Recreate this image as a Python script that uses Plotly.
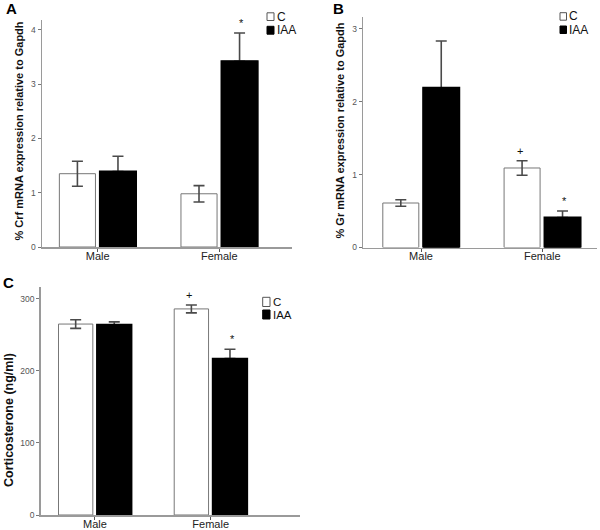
import plotly.graph_objects as go

W, H = 600, 530

categories = ["Male", "Female"]
groups = ["C", "IAA"]

# Panel A: % Crf mRNA expression relative to Gapdh
crf_c = [1.35, 0.98]
crf_c_sem = [0.23, 0.15]
crf_iaa = [1.39, 3.42]
crf_iaa_sem = [0.28, 0.52]

# Panel B: % Gr mRNA expression relative to Gapdh
gr_c = [0.61, 1.09]
gr_c_sem = [0.045, 0.10]
gr_iaa = [2.19, 0.41]
gr_iaa_sem = [0.64, 0.09]

# Panel C: Corticosterone (ng/ml)
cort_c = [265, 286]
cort_c_sem = [6, 5.5]
cort_iaa = [264, 217]
cort_iaa_sem = [4, 13]

ticks_a = [0, 1, 2, 3, 4]
ticks_b = [0, 1, 2, 3]
ticks_c = [0, 100, 200, 300]

# significance marks: (panel, category index, group, symbol)
marks = [
    ("A", 1, "IAA", "*"),
    ("B", 1, "C", "+"),
    ("B", 1, "IAA", "*"),
    ("C", 1, "C", "+"),
    ("C", 1, "IAA", "*"),
]

FONT = "Arial, Liberation Sans, sans-serif"
AXC = "#9a9a9a"
ERRC = "#4a4a4a"


def px(x):
    return x / W


def py(y):
    return 1 - y / H


fig = go.Figure()

panels = {
    "A": dict(xa="x", ya="y", c=crf_c, cs=crf_c_sem, i=crf_iaa, isem=crf_iaa_sem),
    "B": dict(xa="x2", ya="y2", c=gr_c, cs=gr_c_sem, i=gr_iaa, isem=gr_iaa_sem),
    "C": dict(xa="x3", ya="y3", c=cort_c, cs=cort_c_sem, i=cort_iaa, isem=cort_iaa_sem),
}

for key, p in panels.items():
    fig.add_trace(go.Bar(
        x=categories, y=p["c"], name=groups[0], xaxis=p["xa"], yaxis=p["ya"],
        offsetgroup="C",
        marker=dict(color="white", line=dict(color="#777777", width=1)),
        error_y=dict(type="data", array=p["cs"], visible=True, color=ERRC,
                     thickness=1.6, width=5.5),
        showlegend=False,
    ))
    fig.add_trace(go.Bar(
        x=categories, y=p["i"], name=groups[1], xaxis=p["xa"], yaxis=p["ya"],
        offsetgroup="IAA",
        marker=dict(color="black", line=dict(color="black", width=1)),
        error_y=dict(type="data", array=p["isem"], arrayminus=[0] * len(p["isem"]),
                     symmetric=False, visible=True, color=ERRC,
                     thickness=1.6, width=5.5),
        showlegend=False,
    ))
    # same IAA bars drawn again (no error bars) so the error bar's lower cap is hidden
    fig.add_trace(go.Bar(
        x=categories, y=p["i"], name=groups[1], xaxis=p["xa"], yaxis=p["ya"],
        offsetgroup="IAA",
        marker=dict(color="black", line=dict(color="black", width=2)),
        showlegend=False, hoverinfo="skip",
    ))

common_x = dict(type="category", showline=True, linecolor=AXC, linewidth=1.5,
                ticks="outside", ticklen=3, tickcolor="#555555", tickwidth=1,
                ticklabelstandoff=-5,
                tickfont=dict(family=FONT, size=11, color="#222222"),
                showgrid=False, zeroline=False, fixedrange=True, automargin=False)
common_y = dict(showline=True, linecolor=AXC, linewidth=1.5,
                ticks="outside", ticklen=3, tickcolor="#777777", tickwidth=1,
                tickfont=dict(family=FONT, size=8.5, color="#555555"),
                showgrid=False, zeroline=False, fixedrange=True, automargin=False)

fig.update_layout(
    width=W, height=H,
    margin=dict(l=0, r=0, t=0, b=0, pad=0),
    paper_bgcolor="white", plot_bgcolor="white",
    barmode="group", bargap=0.333, bargroupgap=0.11,
    showlegend=False,
    xaxis=dict(common_x, domain=[px(42), px(292)], range=[-0.458, 1.598], anchor="y"),
    yaxis=dict(common_y, domain=[py(247), py(20)], range=[0, 4.18], anchor="x",
               tickvals=ticks_a),
    xaxis2=dict(common_x, domain=[px(363.3), px(597)], range=[-0.476, 1.451], anchor="y2"),
    yaxis2=dict(common_y, domain=[py(247.5), py(17)], range=[0, 3.16], anchor="x2",
                tickvals=ticks_b),
    xaxis3=dict(common_x, domain=[px(40.7), px(300)], range=[-0.469, 1.772], anchor="y3"),
    yaxis3=dict(common_y, domain=[py(515), py(287.3)], range=[0, 316], anchor="x3",
                tickvals=ticks_c),
)

annotations = []
shapes = []

# y-axis titles
titles = [
    ("% Crf mRNA expression relative to Gapdh", 18, 131.5, 11),
    ("% Gr mRNA expression relative to Gapdh", 339, 130.5, 11),
    ("Corticosterone (ng/ml)", 9, 420, 12.5),
]
for t, xx, yy, fs in titles:
    annotations.append(dict(text="<b>%s</b>" % t, x=px(xx), y=py(yy), xref="paper", yref="paper",
                            xanchor="center", yanchor="middle", textangle=-90, showarrow=False,
                            font=dict(family=FONT, size=fs, color="#111111")))

# panel letters
for t, xx, yy in [("A", 11, 8.5), ("B", 338, 8.5), ("C", 8, 282)]:
    annotations.append(dict(text="<b>%s</b>" % t, x=px(xx), y=py(yy), xref="paper", yref="paper",
                            xanchor="center", yanchor="middle", showarrow=False,
                            font=dict(family=FONT, size=15, color="black")))

# legends (boxes + labels)
legends = [
    (267, 274, [(12.8, 20.5), (26.3, 34.2)], 12),
    (560, 566.5, [(12.7, 20.2), (26.0, 33.5)], 12),
    (262.7, 270, [(297.3, 306.5), (310, 319)], 11.5),
]
for x0, x1, rows, fs in legends:
    for (y0, y1), g in zip(rows, groups):
        shapes.append(dict(type="rect", xref="paper", yref="paper",
                           x0=px(x0), x1=px(x1), y0=py(y1), y1=py(y0),
                           fillcolor="white" if g == "C" else "black",
                           line=dict(color="#555555" if g == "C" else "black", width=1)))
        annotations.append(dict(text=g, x=px(x1 + 0.5), y=py((y0 + y1) / 2), xref="paper", yref="paper",
                                xanchor="left", yanchor="middle", showarrow=False,
                                font=dict(family=FONT, size=fs, color="#111111")))

# significance marks positioned from data
offs = {"C": -0.185, "IAA": 0.185}
for key, ci, g, sym in marks:
    p = panels[key]
    vals = p["c"] if g == "C" else p["i"]
    sems = p["cs"] if g == "C" else p["isem"]
    annotations.append(dict(text=sym, x=ci + offs[g], y=vals[ci] + sems[ci],
                            xref=p["xa"], yref=p["ya"], xanchor="center", yanchor="bottom",
                            yshift=2, showarrow=False,
                            font=dict(family=FONT, size=11, color="#111111")))

fig.update_layout(annotations=annotations, shapes=shapes)

fig.write_html("out.html",
               config={"displayModeBar": False, "staticPlot": True},
               post_script="document.body.style.margin='0px';document.body.style.overflow='hidden';")
